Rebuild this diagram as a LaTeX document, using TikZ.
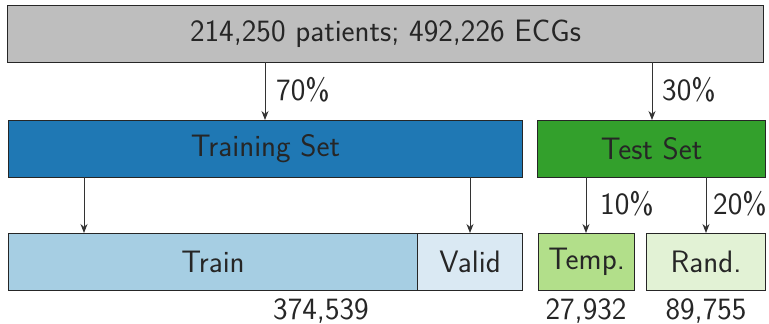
\documentclass[tikz,border=0pt]{standalone}
\usetikzlibrary{arrows.meta}
\definecolor{topgray}{HTML}{BEBEBE}
\definecolor{darkblue}{HTML}{1F78B4}
\definecolor{lightblue}{HTML}{A6CEE3}
\definecolor{paleblue}{HTML}{DAE9F3}
\definecolor{darkgreen}{HTML}{33A02C}
\definecolor{lightgreen}{HTML}{B2DF8A}
\definecolor{palegreen}{HTML}{E2F2D5}
\tikzset{
  x=1pt, y=-1pt,
  every node/.style={font=\sffamily\fontsize{31}{36}\selectfont, text=black!85},
  block/.style={draw=black!85, line width=1.1pt, inner sep=0pt, anchor=north west},
  flow/.style={draw=black!80, line width=0.9pt, -{Stealth[length=9pt,width=7pt]}},
  share/.style={anchor=west, inner sep=0pt},
}
\newcommand{\blockat}[7]{% name, x0, y0, x1, y1, fill, text
  \node[block, fill=#6, minimum width={#4-#2}, minimum height={#5-#3}] (#1) at (#2,#3) {};
  \node at (#1.center) {#7};}
\begin{document}
\begin{tikzpicture}
\useasboundingbox (0,0) rectangle (769,324);
% boxes
\blockat{all}{7}{5}{763}{62}{topgray}{214,250 patients; 492,226 ECGs}
\blockat{trainset}{8}{120}{522}{177}{darkblue}{Training Set}
\blockat{testset}{537}{120}{765}{177}{darkgreen}{Test Set}
\blockat{train}{8}{233}{417}{290}{lightblue}{Train}
\blockat{valid}{417}{233}{522}{290}{paleblue}{Valid}
\blockat{temp}{538}{233}{634}{290}{lightgreen}{Temp.}
\blockat{rand}{646}{233}{765}{290}{palegreen}{Rand.}
% connector anchor points
\coordinate (a1) at (265,62);  \coordinate (b1) at (265,120);
\coordinate (a2) at (652,62);  \coordinate (b2) at (652,120);
\coordinate (c1) at (84,177);  \coordinate (d1) at (84,233);
\coordinate (c2) at (470,177); \coordinate (d2) at (470,233);
\coordinate (c3) at (586,177); \coordinate (d3) at (586,233);
\coordinate (c4) at (706,177); \coordinate (d4) at (706,233);
\draw[flow] (a1) -- (b1);
\draw[flow] (a2) -- (b2);
\draw[flow] (c1) -- (d1);
\draw[flow] (c2) -- (d2);
\draw[flow] (c3) -- (d3);
\draw[flow] (c4) -- (d4);
% split shares
\node[share] (p70) at (276,90) {70\%};
\node[share] (p30) at (662,90) {30\%};
\node[share] (p10) at (600,204) {10\%};
\node[share] (p20) at (713,204) {20\%};
% counts
\node (n1) at (321,311) {374,539};
\node (n2) at (586,311) {27,932};
\node (n3) at (706,311) {89,755};
\end{tikzpicture}
\end{document}
